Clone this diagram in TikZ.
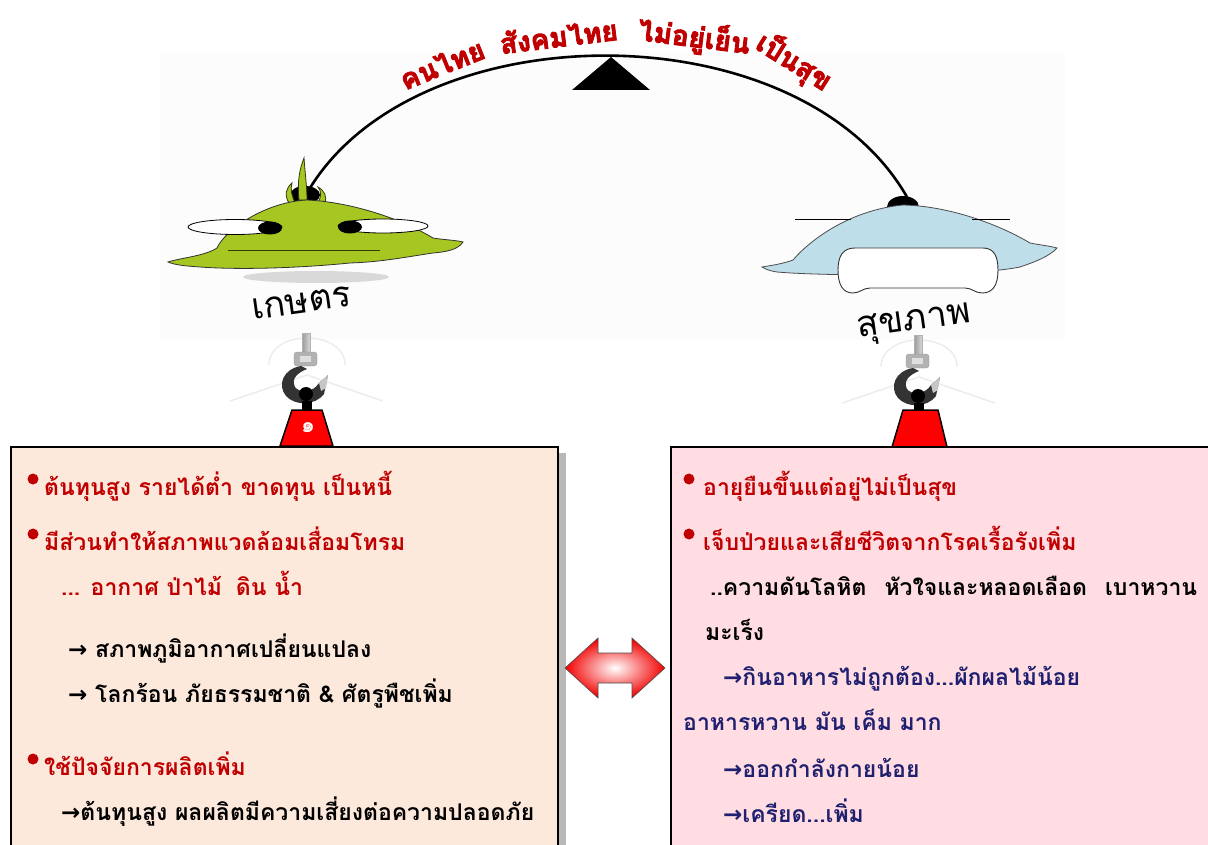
\documentclass[tikz,border=0pt]{standalone}
\usepackage{fontspec}
\newfontfamily\thai[Script=Thai]{Loma}
\newfontfamily\heavy[Script=Thai, FakeBold=3]{Loma}
\newfontfamily\sym{DejaVu Sans}
\usetikzlibrary{positioning}

\definecolor{titlered}{HTML}{C00000}
\definecolor{textred}{HTML}{C00000}
\definecolor{navy}{HTML}{1F2070}
\definecolor{leaf}{HTML}{A6C621}
\definecolor{sky}{HTML}{BEDEEA}
\definecolor{peach}{HTML}{FDE9DC}
\definecolor{blush}{HTML}{FFDDE2}

\newcommand{\arr}{{\sym\bfseries →}}

\tikzset{
	panel/.style={draw, line width=2pt, anchor=north west, inner sep=0pt},
	redtext/.style={anchor=base west, inner sep=0pt, text=textred, font=\thai\bfseries\fontsize{23}{27}\selectfont},
	blacktext/.style={redtext, text=black},
	navytext/.style={redtext, text=navy},
	bul/.style={circle, fill=textred, inner sep=0pt, minimum size=11pt},
	% words of the motto along the beam
	motto/.style={anchor=base, inner sep=0pt, text=titlered, font=\heavy\bfseries\fontsize{28}{28}\selectfont},
	blobname/.style={anchor=base, inner sep=0pt, font=\thai\fontsize{36}{36}\selectfont},
	weight/.style={fill=red, draw=black, line width=1.5pt, line join=round},
	halo/.style={gray!15, line width=1.5pt},
	crane hook/.pic={
		% faint halo behind the hook
		\draw[halo] (-36,32) .. controls (-36,-4) and (40,-4) .. (40,32);
		\draw[halo] (2,42) -- (-75,68) (2,42) -- (78,68);
		% shank and nut
		\shade[left color=gray!80, right color=gray!30, draw=gray!60] (-3,0) rectangle (5,21);
		\filldraw[fill=gray!60, draw=gray!80, rounded corners=3pt] (-11,19) rectangle (12,33);
		\fill[gray!25] (-5,23) rectangle (6,29);
		% the hook
		\fill[black!80] (-4,33) .. controls (-22,36) and (-28,52) .. (-19,63)
			.. controls (-10,73) and (10,73) .. (19,61) -- (23,42) -- (14,50)
			.. controls (8,60) and (-6,60) .. (-10,54)
			.. controls (-14,46) and (-8,40) .. (2,36) -- cycle;
		\fill[gray!45] (23,42) -- (14,50) -- (16,58) -- (21,55) -- cycle;
		\fill (1,61) circle (7);
		\fill (-3,68) rectangle (7,77);
	},
}

\begin{document}
\begin{tikzpicture}[x=1pt, y=-1pt]
	\useasboundingbox (0,0) rectangle (1208,845);
	\clip (0,0) rectangle (1208,845);
	\fill[black!1] (160,52) rectangle (1065,340);

	% beam and pivot
	\coordinate (agri) at (310,188);
	\coordinate (health) at (907,197);
	\draw[line width=2.6pt] (agri) .. controls (420,10) and (800,10) .. (health);
	\fill (611,57) -- (650,90) -- (572,90) -- cycle;

	\node[motto, rotate=22] (m1) at (446,74) {คนไทย};
	\node[motto, rotate=7] (m2) at (560,47) {สังคมไทย};
	\node[motto, rotate=-7] (m3) at (693,47) {ไม่อยู่เย็น};
	\node[motto, rotate=-32] (m4) at (789,70) {เป็นสุข};

	% green blob
	\fill[gray!30] (316,277) ellipse (73 and 6);
	\fill (305,195) ellipse (15 and 9);
	\filldraw[fill=leaf, draw=black!70!leaf, line width=0.8pt]
		(299,200) .. controls (297,180) and (300,168) .. (304,158)
		.. controls (305,172) and (307,188) .. (307,200) -- cycle;
	\filldraw[fill=leaf, draw=black!70!leaf, line width=0.8pt]
		(289,203) .. controls (284,195) and (286,188) .. (292,183)
		.. controls (290,190) and (292,196) .. (295,203) -- cycle;
	\filldraw[fill=leaf, draw=black!70!leaf, line width=0.8pt]
		(318,203) .. controls (321,197) and (322,192) .. (318,187)
		.. controls (325,191) and (327,197) .. (325,203) -- cycle;
	\filldraw[fill=leaf, draw=black!80, line width=0.8pt]
		(168,262) .. controls (180,258) and (205,256) .. (217,248)
		.. controls (225,230) and (265,202) .. (307,200)
		.. controls (350,202) and (400,218) .. (433,238)
		.. controls (445,240) and (455,240) .. (463,242)
		.. controls (458,250) and (445,252) .. (433,253)
		.. controls (400,258) and (380,262) .. (350,263)
		.. controls (300,268) and (240,270) .. (200,267)
		.. controls (185,266) and (175,265) .. (168,262) -- cycle;
	\filldraw[fill=white, draw=black, line width=0.8pt] (235,227) ellipse (47 and 7.5);
	\filldraw[fill=white, draw=black, line width=0.8pt] (383,226) ellipse (45 and 7);
	\fill (270,228) ellipse (12 and 6.5);
	\fill (350,227) ellipse (12 and 6.5);
	\draw[black!70!leaf, line width=1pt] (228,251) -- (380,251);
	\node[blobname, rotate=8] (agriname) at (303,313) {เกษตร};

	% blue blob
	\fill (903,207) ellipse (16 and 11);
	\filldraw[fill=sky, draw=black!70, line width=0.8pt]
		(762,267) .. controls (775,265) and (785,263) .. (793,260)
		.. controls (810,240) and (850,210) .. (903,205)
		.. controls (950,206) and (1000,225) .. (1030,243)
		.. controls (1040,245) and (1050,246) .. (1057,248)
		.. controls (1050,256) and (1035,262) .. (1020,267)
		.. controls (990,273) and (930,275) .. (887,275)
		.. controls (840,275) and (800,274) .. (777,272)
		.. controls (770,271) and (765,269) .. (762,267) -- cycle;
	\draw[line width=0.7pt] (795,219) -- (851,219) (972,219) -- (1010,219);
	\filldraw[fill=white, draw=black!80, line width=0.9pt]
		(855,248) -- (983,248) .. controls (995,248) and (998,258) .. (998,270)
		.. controls (998,285) and (993,293) .. (982,293)
		.. controls (975,293) and (972,288) .. (965,288) -- (870,288)
		.. controls (863,288) and (860,293) .. (853,293)
		.. controls (843,293) and (838,285) .. (838,270)
		.. controls (838,256) and (843,248) .. (855,248) -- cycle;
	\node[blobname, rotate=8] (healthname) at (915,330) {สุขภาพ};

	% hooks and weights
	\pic at (305,333) {crane hook};
	\pic at (917,335) {crane hook};
	\draw[weight] (292,410) -- (322,410) -- (333,446) -- (280,446) -- cycle;
	\draw[weight] (903,410) -- (938,410) -- (947,447) -- (892,447) -- cycle;
	\node[text=white, font=\thai\bfseries\fontsize{22}{22}\selectfont] (one) at (308,428) {๑};

	% left panel
	\fill[gray!55] (557,453) rectangle (566,845);
	\node[panel, fill=peach, minimum width=547pt, minimum height=420pt] (lbox) at (10,446) {};
	\node[bul] (lb1) at (33,479) {};
	\node[redtext] (l1) at (44,495) {ต้นทุนสูง รายได้ต่ำ ขาดทุน เป็นหนี้};
	\node[bul] (lb2) at (33,534) {};
	\node[redtext] (l2) at (44,550) {มีส่วนทำให้สภาพแวดล้อมเสื่อมโทรม};
	\node[redtext] (l3) at (61,595) {... อากาศ ป่าไม้\hspace{6pt} ดิน น้ำ};
	\node[blacktext] (l4) at (68,657) {\arr\ สภาพภูมิอากาศเปลี่ยนแปลง};
	\node[blacktext] (l5) at (68,702) {\arr\ โลกร้อน ภัยธรรมชาติ \& ศัตรูพืชเพิ่ม};
	\node[bul] (lb3) at (33,759) {};
	\node[redtext] (l6) at (44,775) {ใช้ปัจจัยการผลิตเพิ่ม};
	\node[blacktext] (l7) at (61,820) {\arr ต้นทุนสูง ผลผลิตมีความเสี่ยงต่อความปลอดภัย};

	% right panel
	\node[panel, fill=blush, minimum width=560pt, minimum height=420pt] (rbox) at (670,446) {};
	\node[bul] (rb1) at (689,479) {};
	\node[redtext] (r1) at (703,495) {อายุยืนขึ้นแต่อยู่ไม่เป็นสุข};
	\node[bul] (rb2) at (689,534) {};
	\node[redtext] (r2) at (703,550) {เจ็บป่วยและเสียชีวิตจากโรคเรื้อรังเพิ่ม};
	\node[blacktext] (r3) at (710,595) {..ความดันโลหิต\hspace{18pt}หัวใจและหลอดเลือด\hspace{18pt}เบาหวาน};
	\node[blacktext] (r4) at (705,640) {มะเร็ง};
	\node[navytext] (r5) at (723,685) {\arr กินอาหารไม่ถูกต้อง...ผักผลไม้น้อย};
	\node[navytext] (r6) at (683,730) {อาหารหวาน มัน เค็ม มาก};
	\node[navytext] (r7) at (723,777) {\arr ออกกำลังกายน้อย};
	\node[navytext] (r8) at (723,822) {\arr เครียด...เพิ่ม};

	% link between the panels
	\shade[draw=gray!60!black, line width=0.6pt, inner color=white, outer color=red!95!black]
		(565,668) -- (598,638) -- (598,653) -- (632,653) -- (632,638) -- (665,668)
		-- (632,698) -- (632,683) -- (598,683) -- (598,698) -- cycle;
\end{tikzpicture}
\end{document}
